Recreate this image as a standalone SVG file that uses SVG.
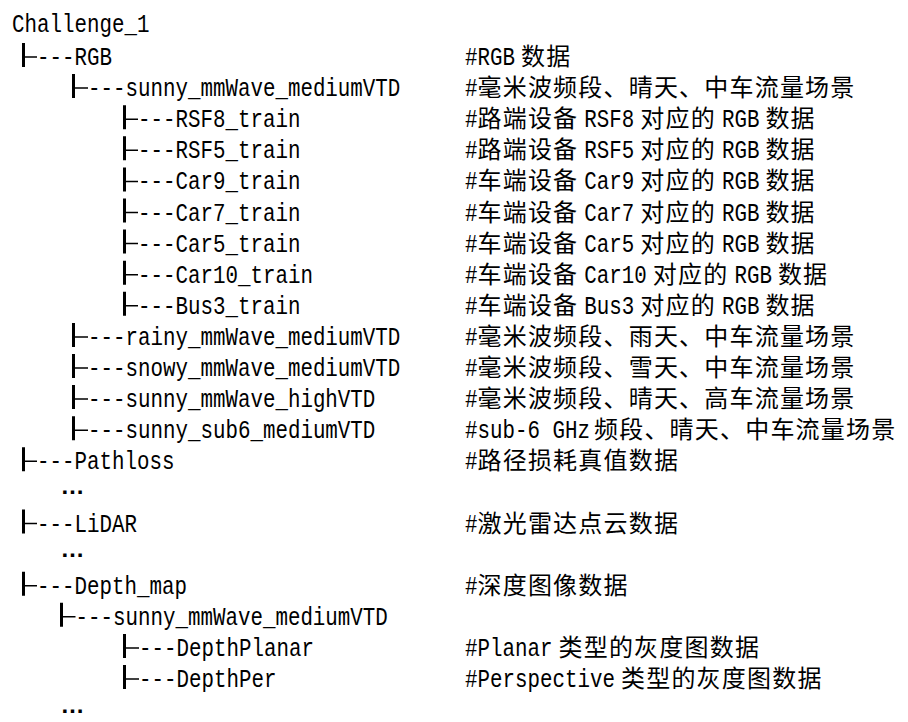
<svg xmlns="http://www.w3.org/2000/svg" width="908" height="722" viewBox="0 0 908 722">
<style>
text{fill:#000}
.l{font-family:"Liberation Mono",monospace;font-size:26px}
.c{font-family:"Noto Sans CJK SC",sans-serif;font-size:24px;letter-spacing:1.2px}
.d{font-family:"Liberation Sans",sans-serif;font-size:24px;font-weight:bold}
.bar{stroke:#000;stroke-width:3;fill:none}
.tick{stroke:#000;stroke-width:1.5;fill:none}
</style>
<rect width="908" height="722" fill="#fff"/>
<g id="connectors">
<path class="bar" d="M23.5,43V67 M73.5,74.1V98.1 M124.5,105.2V129.2 M124.5,136.3V160.3 M124.5,167.4V191.4 M124.5,198.5V222.5 M124.5,229.6V253.6 M124.5,260.7V284.7 M124.5,291.8V315.8 M73.5,322.9V346.9 M73.5,354V378 M73.5,385.1V409.1 M73.5,416.2V440.2 M23.5,447.3V471.3 M23.5,509.5V533.5 M23.5,571.7V595.7 M61.5,602.8V626.8 M124.5,633.9V657.9 M124.5,665V689"/>
<path class="tick" d="M25,57H37 M75,88.1H88 M126,119.2H138 M126,150.3H138 M126,181.4H138 M126,212.5H138 M126,243.6H138 M126,274.7H138 M126,305.8H138 M75,336.9H88 M75,368H88 M75,399.1H88 M75,430.2H88 M25,461.3H37 M25,523.5H37 M25,585.7H37 M63,616.8H75.5 M126,647.9H139 M126,679H139"/>
</g>
<g id="root"><text class="l" transform="translate(12,32) scale(.801,1)">Challenge_1</text></g>
<g id="rgb">
<text class="l" transform="translate(37,65) scale(.801,1)">---RGB</text>
<text class="l" transform="translate(465,65) scale(.801,1)">#RGB</text>
<text class="c" x="521" y="65">数据</text>
</g>
<g id="rgb-sunny-medium">
<text class="l" transform="translate(88,96.1) scale(.801,1)">---sunny_mmWave_mediumVTD</text>
<text class="l" transform="translate(465,96.1) scale(.801,1)">#</text>
<text class="c" x="477.5" y="96.1">毫米波频段、晴天、中车流量场景</text>
</g>
<g id="rsf8">
<text class="l" transform="translate(138,127.2) scale(.801,1)">---RSF8_train</text>
<text class="l" transform="translate(465,127.2) scale(.801,1)">#</text>
<text class="c" x="477.5" y="127.2">路端设备</text>
<text class="l" transform="translate(584.3,127.2) scale(.801,1)">RSF8</text>
<text class="c" x="640.3" y="127.2">对应的</text>
<text class="l" transform="translate(721.9,127.2) scale(.801,1)">RGB</text>
<text class="c" x="765.4" y="127.2">数据</text>
</g>
<g id="rsf5">
<text class="l" transform="translate(138,158.3) scale(.801,1)">---RSF5_train</text>
<text class="l" transform="translate(465,158.3) scale(.801,1)">#</text>
<text class="c" x="477.5" y="158.3">路端设备</text>
<text class="l" transform="translate(584.3,158.3) scale(.801,1)">RSF5</text>
<text class="c" x="640.3" y="158.3">对应的</text>
<text class="l" transform="translate(721.9,158.3) scale(.801,1)">RGB</text>
<text class="c" x="765.4" y="158.3">数据</text>
</g>
<g id="car9">
<text class="l" transform="translate(138,189.4) scale(.801,1)">---Car9_train</text>
<text class="l" transform="translate(465,189.4) scale(.801,1)">#</text>
<text class="c" x="477.5" y="189.4">车端设备</text>
<text class="l" transform="translate(584.3,189.4) scale(.801,1)">Car9</text>
<text class="c" x="640.3" y="189.4">对应的</text>
<text class="l" transform="translate(721.9,189.4) scale(.801,1)">RGB</text>
<text class="c" x="765.4" y="189.4">数据</text>
</g>
<g id="car7">
<text class="l" transform="translate(138,220.5) scale(.801,1)">---Car7_train</text>
<text class="l" transform="translate(465,220.5) scale(.801,1)">#</text>
<text class="c" x="477.5" y="220.5">车端设备</text>
<text class="l" transform="translate(584.3,220.5) scale(.801,1)">Car7</text>
<text class="c" x="640.3" y="220.5">对应的</text>
<text class="l" transform="translate(721.9,220.5) scale(.801,1)">RGB</text>
<text class="c" x="765.4" y="220.5">数据</text>
</g>
<g id="car5">
<text class="l" transform="translate(138,251.6) scale(.801,1)">---Car5_train</text>
<text class="l" transform="translate(465,251.6) scale(.801,1)">#</text>
<text class="c" x="477.5" y="251.6">车端设备</text>
<text class="l" transform="translate(584.3,251.6) scale(.801,1)">Car5</text>
<text class="c" x="640.3" y="251.6">对应的</text>
<text class="l" transform="translate(721.9,251.6) scale(.801,1)">RGB</text>
<text class="c" x="765.4" y="251.6">数据</text>
</g>
<g id="car10">
<text class="l" transform="translate(138,282.7) scale(.801,1)">---Car10_train</text>
<text class="l" transform="translate(465,282.7) scale(.801,1)">#</text>
<text class="c" x="477.5" y="282.7">车端设备</text>
<text class="l" transform="translate(584.3,282.7) scale(.801,1)">Car10</text>
<text class="c" x="652.8" y="282.7">对应的</text>
<text class="l" transform="translate(734.4,282.7) scale(.801,1)">RGB</text>
<text class="c" x="777.9" y="282.7">数据</text>
</g>
<g id="bus3">
<text class="l" transform="translate(138,313.8) scale(.801,1)">---Bus3_train</text>
<text class="l" transform="translate(465,313.8) scale(.801,1)">#</text>
<text class="c" x="477.5" y="313.8">车端设备</text>
<text class="l" transform="translate(584.3,313.8) scale(.801,1)">Bus3</text>
<text class="c" x="640.3" y="313.8">对应的</text>
<text class="l" transform="translate(721.9,313.8) scale(.801,1)">RGB</text>
<text class="c" x="765.4" y="313.8">数据</text>
</g>
<g id="rainy">
<text class="l" transform="translate(88,344.9) scale(.801,1)">---rainy_mmWave_mediumVTD</text>
<text class="l" transform="translate(465,344.9) scale(.801,1)">#</text>
<text class="c" x="477.5" y="344.9">毫米波频段、雨天、中车流量场景</text>
</g>
<g id="snowy">
<text class="l" transform="translate(88,376) scale(.801,1)">---snowy_mmWave_mediumVTD</text>
<text class="l" transform="translate(465,376) scale(.801,1)">#</text>
<text class="c" x="477.5" y="376">毫米波频段、雪天、中车流量场景</text>
</g>
<g id="sunny-high">
<text class="l" transform="translate(88,407.1) scale(.801,1)">---sunny_mmWave_highVTD</text>
<text class="l" transform="translate(465,407.1) scale(.801,1)">#</text>
<text class="c" x="477.5" y="407.1">毫米波频段、晴天、高车流量场景</text>
</g>
<g id="sunny-sub6">
<text class="l" transform="translate(88,438.2) scale(.801,1)">---sunny_sub6_mediumVTD</text>
<text class="l" transform="translate(465,438.2) scale(.801,1)">#sub-6 GHz</text>
<text class="c" x="594" y="438.2">频段、晴天、中车流量场景</text>
</g>
<g id="pathloss">
<text class="l" transform="translate(37,469.3) scale(.801,1)">---Pathloss</text>
<text class="l" transform="translate(465,469.3) scale(.801,1)">#</text>
<text class="c" x="477.5" y="469.3">路径损耗真值数据</text>
<text class="d" x="60.5" y="494">…</text>
</g>
<g id="lidar">
<text class="l" transform="translate(37,531.5) scale(.801,1)">---LiDAR</text>
<text class="l" transform="translate(465,531.5) scale(.801,1)">#</text>
<text class="c" x="477.5" y="531.5">激光雷达点云数据</text>
<text class="d" x="60.5" y="557">…</text>
</g>
<g id="depth-map">
<text class="l" transform="translate(37,593.7) scale(.801,1)">---Depth_map</text>
<text class="l" transform="translate(465,593.7) scale(.801,1)">#</text>
<text class="c" x="477.5" y="593.7">深度图像数据</text>
</g>
<g id="depth-sunny">
<text class="l" transform="translate(75.5,624.8) scale(.801,1)">---sunny_mmWave_mediumVTD</text>
</g>
<g id="depth-planar">
<text class="l" transform="translate(139,655.9) scale(.801,1)">---DepthPlanar</text>
<text class="l" transform="translate(465,655.9) scale(.801,1)">#Planar</text>
<text class="c" x="558.5" y="655.9">类型的灰度图数据</text>
</g>
<g id="depth-per">
<text class="l" transform="translate(139,687) scale(.801,1)">---DepthPer</text>
<text class="l" transform="translate(465,687) scale(.801,1)">#Perspective</text>
<text class="c" x="621" y="687">类型的灰度图数据</text>
<text class="d" x="60.5" y="713">…</text>
</g>
</svg>
